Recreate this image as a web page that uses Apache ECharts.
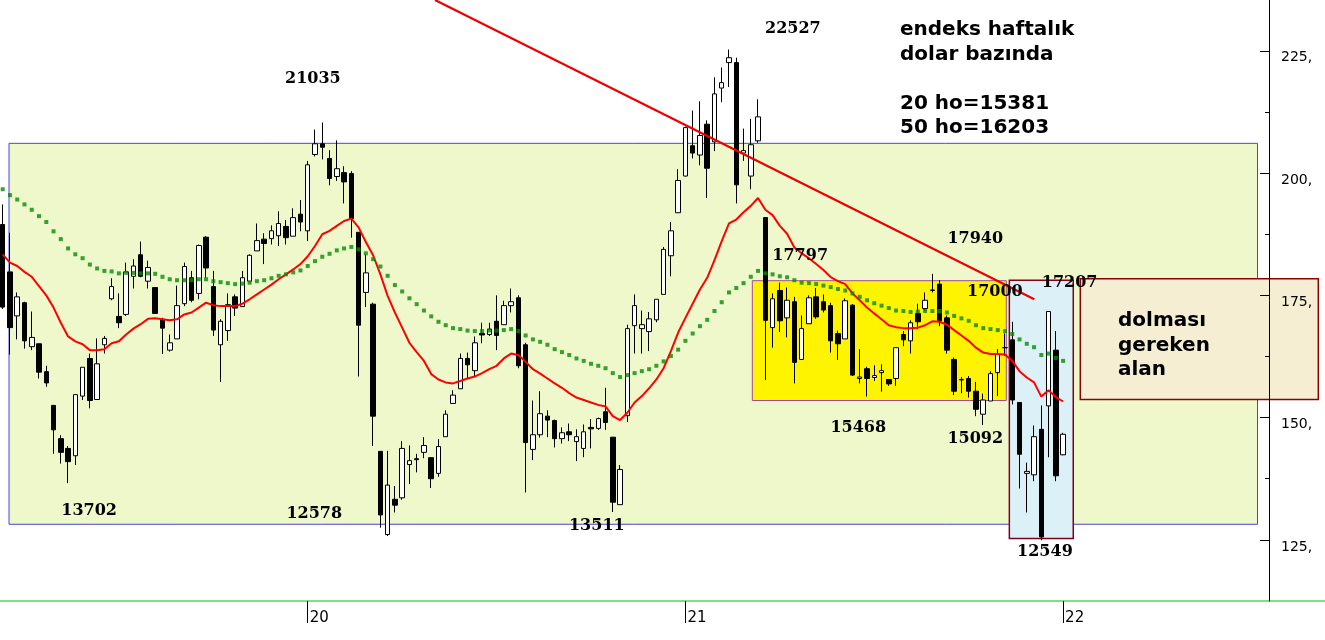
<!DOCTYPE html>
<html><head><meta charset="utf-8">
<script src="https://cdn.jsdelivr.net/npm/echarts@6/dist/echarts.min.js"></script>
<style>html,body{margin:0;padding:0;background:#fff}#c{width:1325px;height:640px}</style>
</head><body><div id="c"></div>
<script>
// weekly candles (dollar based index)
const open = [189.5,179.8,170.8,173.5,164.5,165.1,159.4,152.5,145.7,143.7,
142.2,154.4,162.1,153.7,164.9,174.3,170.7,171.1,178.9,183.3,
177.9,176.6,170.1,163.8,166.1,173.3,178.6,175.4,186.9,176.8,
164.9,167.8,174.7,172.7,177.9,184.1,186.5,186.6,187.2,189.1,
187.1,191.6,188.2,203.8,206.0,203.0,199.3,200.1,199.9,187.9,
175.6,173.2,143.1,126.1,133.3,133.6,140.4,141.6,142.9,141.8,
138.6,146.1,152.9,155.9,162.1,159.6,167.2,167.0,169.7,169.0,
172.9,174.5,164.9,143.5,146.5,150.3,149.4,145.7,147.1,145.1,
143.7,148.0,147.8,151.2,146.0,132.2,150.4,168.8,168.2,167.6,
170.0,175.2,183.1,191.9,199.4,205.6,203.7,210.0,206.4,217.4,
222.6,222.6,204.1,199.4,206.6,190.9,168.4,176.0,170.4,173.7,
161.9,169.2,174.7,173.7,172.9,167.2,166.1,173.0,158.0,160.0,
158.2,159.2,157.8,158.0,167.0,165.7,171.3,172.3,176.0,177.3,
170.4,161.9,157.8,158.0,155.4,150.7,153.4,159.2,164.3,165.9,
153.1,138.6,138.3,147.6,152.4,163.8,142.4];
const close = [172.6,168.4,174.7,165.7,166.4,159.3,157.1,147.5,142.9,141.0,
154.7,160.3,153.5,161.0,166.2,176.8,169.4,179.8,181.0,178.9,
180.7,171.3,168.3,165.3,172.9,180.9,174.0,185.2,180.6,167.9,
169.7,173.1,172.4,178.6,183.2,186.2,185.6,188.2,189.7,186.8,
190.9,190.0,201.7,206.0,205.3,198.9,200.9,198.2,190.7,168.9,
179.6,150.3,130.1,136.2,132.1,143.7,141.2,141.4,144.3,137.5,
144.1,150.7,154.6,162.1,160.8,165.3,166.9,168.1,166.8,172.9,
173.7,160.6,144.9,146.5,150.8,149.5,145.7,146.9,146.5,146.1,
147.1,147.7,149.8,149.0,132.7,139.4,168.2,172.9,169.0,170.2,
174.2,184.4,188.2,198.5,209.3,204.1,207.7,201.0,216.2,218.5,
223.6,197.6,204.6,205.8,211.5,169.9,174.3,169.8,174.0,161.3,
168.2,174.5,170.6,172.0,165.7,165.1,173.9,158.7,158.3,158.0,
158.6,159.6,156.9,164.3,165.9,169.4,169.6,174.0,176.1,169.8,
163.8,155.4,157.7,155.4,151.7,153.6,159.0,162.9,164.3,153.6,
142.5,139.0,146.1,125.6,171.7,138.1,146.6];
const low = [172.2,162.9,166.0,164.1,163.8,158.0,156.3,142.6,140.6,136.6,
140.3,153.6,151.9,153.7,163.1,174.0,168.3,170.8,176.4,178.7,
176.4,171.3,163.0,163.5,166.1,172.8,173.6,174.2,178.6,166.7,
157.3,165.7,170.8,172.7,177.9,184.1,181.4,185.4,185.1,185.4,
187.1,188.1,186.1,203.4,202.8,197.5,198.4,193.8,186.8,158.4,
172.6,144.2,127.5,125.78,130.6,133.2,136.4,138.8,141.7,135.6,
137.9,146.1,152.9,155.9,158.0,158.5,165.2,166.7,163.8,169.0,
171.5,160.1,134.7,141.3,145.9,146.0,143.9,144.7,145.2,141.1,
141.9,143.7,147.5,147.5,130.7,132.2,149.1,163.1,163.1,163.6,
169.5,175.2,178.9,191.9,199.3,203.0,201.6,194.9,204.5,214.5,
217.6,193.8,202.5,196.7,206.2,157.7,164.3,167.5,166.4,157.0,
161.9,169.2,170.2,171.5,163.3,161.8,166.1,158.5,157.0,154.3,
157.5,155.3,156.5,156.5,164.6,163.1,168.1,171.8,175.6,168.7,
163.1,154.6,155.0,154.1,150.3,148.5,153.4,154.4,162.6,152.7,
135.5,130.6,137.0,124.9,141.9,137.0,142.3];
const high = [193.6,187.8,175.6,173.7,171.7,165.1,160.6,152.6,146.4,144.2,
154.7,160.3,163.1,166.2,166.7,178.5,175.4,181.7,182.4,186.0,
182.1,176.6,170.4,167.0,177.0,181.7,180.0,185.4,187.1,180.0,
170.1,175.4,175.2,180.0,183.4,189.7,187.7,189.3,192.2,190.4,
192.8,194.5,202.5,208.9,210.35,204.7,206.7,201.4,200.4,187.9,
183.4,173.5,143.1,143.2,136.0,145.2,144.3,142.6,146.0,141.8,
145.6,151.5,155.6,163.1,163.3,166.6,169.4,169.4,175.0,173.9,
176.4,175.0,165.3,153.5,155.4,151.5,149.6,148.0,148.8,147.6,
148.6,149.7,150.0,156.1,146.0,140.3,169.0,175.2,171.9,171.6,
174.2,184.9,190.0,200.8,209.5,212.8,214.7,210.8,219.6,221.6,
225.27,223.6,209.1,211.1,215.1,190.9,175.4,177.6,176.6,174.7,
170.9,175.0,176.5,175.2,173.5,167.8,174.4,173.2,164.0,160.4,
160.7,160.9,157.8,164.3,167.7,169.9,173.3,175.6,179.4,178.1,
170.9,162.3,158.3,158.5,157.3,154.9,159.5,164.0,167.2,169.6,
153.1,140.8,148.4,152.5,171.7,167.7,146.9];
// 20-week moving average (red line)
const ma20 = [183.4,181.7,181.0,179.8,178.8,176.9,175.0,172.5,169.4,166.6,
165.6,165.0,163.8,163.8,164.0,165.2,165.6,167.0,168.2,169.1,
170.2,170.3,170.1,169.9,170.1,171.1,171.5,172.5,173.5,173.0,
172.8,172.8,172.8,173.3,174.2,175.2,176.2,177.2,178.3,179.3,
180.3,181.4,183.0,185.1,187.5,188.2,189.2,190.2,190.7,188.9,
185.9,183.2,179.3,174.9,171.5,168.4,165.3,163.4,161.6,158.9,
157.8,157.2,157.0,157.5,158.0,158.4,159.1,159.9,160.6,162.1,
163.1,162.8,161.4,159.9,159.0,158.0,157.0,156.1,155.0,154.1,
153.6,153.1,152.6,152.3,150.3,149.5,151.0,153.1,154.4,156.0,
157.8,160.1,163.6,167.4,170.4,173.3,176.2,178.6,182.2,186.1,
189.7,190.5,192.0,193.3,194.9,192.5,191.4,189.2,187.6,184.8,
183.6,182.6,181.4,180.2,178.75,177.9,177.3,175.4,174.0,172.5,
171.3,170.1,168.9,168.5,168.3,168.3,168.4,168.9,169.7,169.6,
169.0,167.9,166.8,165.7,164.3,163.3,163.0,163.0,162.9,161.6,
159.5,158.2,157.2,154.3,155.6,154.2,153.3];
// 50-week moving average (green dots)
const ma50 = [196.7,195.5,194.6,193.6,192.5,191.2,190.0,188.1,186.5,184.6,
183.4,182.6,181.3,180.5,180.0,179.9,179.5,179.6,179.6,179.5,
179.5,179.4,178.8,178.3,178.1,178.1,178.1,178.3,178.3,177.9,
177.7,177.5,177.3,177.4,177.6,177.9,178.1,178.5,179.0,179.3,
179.7,180.1,181.0,182.0,182.9,183.5,184.2,184.6,184.9,184.4,
183.6,182.4,180.9,179.0,177.1,175.8,174.4,173.2,171.9,170.7,
169.6,168.9,168.3,168.1,167.8,167.7,167.7,167.8,167.8,167.9,
168.1,167.7,166.8,166.0,165.5,164.9,164.0,163.4,162.8,162.1,
161.6,161.0,160.6,160.1,159.1,158.3,158.7,159.1,159.5,159.9,
160.6,161.5,162.6,163.9,165.7,167.2,168.7,170.0,171.8,173.6,
175.6,176.5,177.5,178.8,180.0,179.5,179.3,178.9,178.7,178.1,
177.6,177.5,177.3,177.0,176.7,176.3,176.0,175.4,174.7,174.0,
173.4,172.9,172.4,171.9,171.8,171.6,171.7,171.8,171.8,171.8,
171.5,170.8,170.3,169.8,168.9,168.3,168.1,167.9,167.7,167.1,
166.0,165.1,164.4,162.8,163.1,162.2,161.6];
const yearTickIndex = [42, 94, 146];
const yearTickLabels = ['20', '21', '22'];
const yMajorTicks = [125, 150, 175, 200, 225];
const yMinorTicks = [137.5, 162.5, 187.5, 212.5];
const noteTexts = ['21035','22527','13702','12578','13511','17797','17940','17000','17207','15468','15092','12549'];

const candles = open.map((o, i) => [i, o, close[i], low[i], high[i]]);
const notePos = [[42.7,219.2],[108.8,229.4],[11.9,130.9],[42.9,130.4],[81.8,127.8],[109.8,183.0],
  [133.9,186.5],[136.6,175.8],[146.9,177.5],[117.8,148.0],[133.9,145.6],[143.5,122.5]];

const chart = echarts.init(document.getElementById('c'));
const yMin = 112.5, yMax = 235.4;
chart.setOption({
  animation: false,
  grid: {left: 0, right: 0, top: 0, bottom: 39},
  xAxis: {
    type: 'value', min: -0.372, max: 182.06,
    splitLine: {show: false},
    axisLine: {show: true, onZero: false, lineStyle: {color: '#7fe07f', width: 2}},
    axisTick: {show: true, customValues: yearTickIndex, length: 22, lineStyle: {color: '#000', width: 1}},
    axisLabel: {show: true, customValues: yearTickIndex,
      formatter: v => yearTickLabels[yearTickIndex.indexOf(Math.round(v))] || '',
      align: 'left', margin: 10, padding: [0, 0, 0, 2], fontSize: 15, color: '#000', fontFamily: 'DejaVu Sans'}
  },
  yAxis: [{
    type: 'value', min: yMin, max: yMax, position: 'right', offset: -56, z: 10,
    splitLine: {show: false},
    axisLine: {show: true, onZero: false, lineStyle: {color: '#000', width: 1}},
    axisTick: {show: true, inside: true, length: 9, customValues: yMajorTicks, lineStyle: {color: '#000'}},
    axisLabel: {show: true, customValues: yMajorTicks, formatter: v => v + ',', margin: 12,
      verticalAlign: 'top', fontSize: 14, color: '#000', fontFamily: 'DejaVu Sans'}
  }, {
    type: 'value', min: yMin, max: yMax, position: 'right', offset: -56, z: 10,
    splitLine: {show: false}, axisLine: {show: false, onZero: false}, axisLabel: {show: false},
    axisTick: {show: true, inside: true, length: 4, customValues: yMinorTicks, lineStyle: {color: '#000'}}
  }],
  series: [{
    type: 'scatter', data: [], z: 1, silent: true,
    markArea: {silent: true, data: [
      [{coord: [0.87, 206.09], itemStyle: {color: '#eef8ca', borderColor: '#4646d8', borderWidth: 1}}, {coord: [172.77, 128.19]}],
      [{coord: [103.21, 178.0], itemStyle: {color: '#fff400', borderColor: '#a04aa0', borderWidth: 1}}, {coord: [138.18, 153.5]}],
      [{coord: [138.6, 178.1], itemStyle: {color: '#dcf0f8', borderColor: '#800020', borderWidth: 1.5}}, {coord: [147.4, 125.3]}],
      [{coord: [148.37, 178.4], itemStyle: {color: '#f5eed2', borderColor: '#8b0000', borderWidth: 1.5}}, {coord: [181.14, 153.7]}]
    ]}
  }, {
    type: 'candlestick', z: 3, barWidth: 5, data: candles, silent: true,
    itemStyle: {color: '#ffffff', color0: '#000000', borderColor: '#000000', borderColor0: '#000000', borderColorDoji: '#000000', borderWidth: 1}
  }, {
    type: 'line', z: 4, data: ma20.map((v, i) => [i, v]), showSymbol: false, silent: true,
    lineStyle: {color: '#ff0000', width: 2}
  }, {
    type: 'scatter', z: 5, data: ma50.map((v, i) => [i, v]), symbol: 'rect', symbolSize: 4, silent: true,
    itemStyle: {color: '#088a08'}
  }, {
    type: 'line', z: 6, data: [], silent: true,
    markLine: {symbol: ['none', 'none'], silent: true, label: {show: false},
      lineStyle: {color: '#ee0000', width: 2.2, type: 'solid'},
      data: [[{coord: [59.52, 235.4]}, {coord: [142.03, 174.2]}]]}
  }, {
    type: 'scatter', z: 10, data: [], silent: true,
    markPoint: {symbol: 'rect', symbolSize: 0, silent: true,
      label: {show: true, position: 'inside', fontFamily: 'DejaVu Serif', fontWeight: 'bold', fontSize: 16, color: '#000'},
      data: noteTexts.map((t, k) => ({coord: notePos[k], label: {formatter: t}}))}
  }],
  graphic: [
    {type: 'text', left: 900, top: 18, z: 20,
      style: {text: 'endeks haftalık\ndolar bazında\n\n20 ho=15381\n50 ho=16203', font: 'bold 20px "DejaVu Sans"', fill: '#000', lineHeight: 24.5}},
    {type: 'text', left: 1118, top: 309, z: 20,
      style: {text: 'dolması\ngereken\nalan', font: 'bold 20px "DejaVu Sans"', fill: '#000', lineHeight: 24.5}}
  ]
});
</script>
</body></html>
